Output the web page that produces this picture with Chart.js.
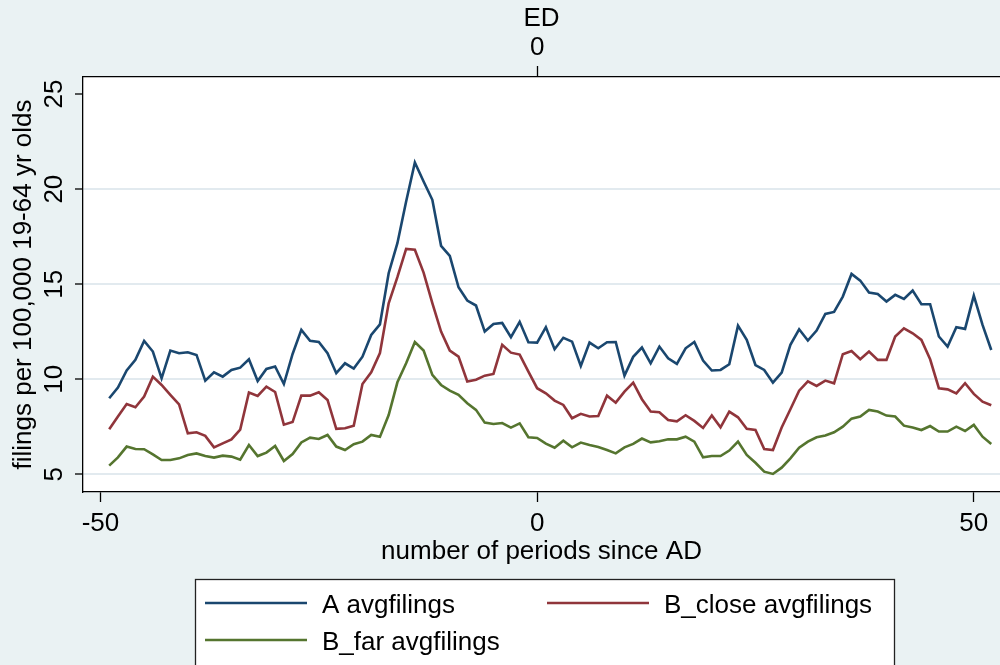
<!DOCTYPE html>
<html>
<head>
<meta charset="utf-8">
<script src="https://cdn.jsdelivr.net/npm/chart.js@4.4.1/dist/chart.umd.min.js"></script>
<style>
    html, body { margin: 0; padding: 0; background: #eaf2f3; }
    canvas { display: block; }
</style>
</head>
<body>
<canvas id="filingsChart" width="1000" height="665"></canvas>
<script>
const periods = [
    -49, -48, -47, -46, -45, -44, -43, -42, -41, -40,
    -39, -38, -37, -36, -35, -34, -33, -32, -31, -30,
    -29, -28, -27, -26, -25, -24, -23, -22, -21, -20,
    -19, -18, -17, -16, -15, -14, -13, -12, -11, -10,
    -9, -8, -7, -6, -5, -4, -3, -2, -1, 0,
    1, 2, 3, 4, 5, 6, 7, 8, 9, 10,
    11, 12, 13, 14, 15, 16, 17, 18, 19, 20,
    21, 22, 23, 24, 25, 26, 27, 28, 29, 30,
    31, 32, 33, 34, 35, 36, 37, 38, 39, 40,
    41, 42, 43, 44, 45, 46, 47, 48, 49, 50,
    51, 52
];

const aFilings = [
    9.0, 9.56, 10.46, 11.02, 12.02, 11.46, 10.05, 11.51, 11.37, 11.42,
    11.28, 9.93, 10.37, 10.14, 10.49, 10.61, 11.05, 9.91, 10.54, 10.67,
    9.75, 11.33, 12.6, 12.02, 11.96, 11.37, 10.32, 10.84, 10.56, 11.19,
    12.33, 12.89, 15.58, 17.16, 19.35, 21.4, 20.4, 19.44, 17.02, 16.49,
    14.84, 14.14, 13.88, 12.51, 12.91, 12.96, 12.21, 13.02, 11.95, 11.93,
    12.74, 11.58, 12.18, 11.98, 10.7, 11.93, 11.63, 11.95, 11.96, 10.19,
    11.18, 11.67, 10.84, 11.72, 11.1, 10.81, 11.63, 11.96, 10.98, 10.46,
    10.49, 10.79, 12.82, 12.07, 10.75, 10.49, 9.82, 10.35, 11.81, 12.63,
    12.04, 12.56, 13.44, 13.54, 14.35, 15.54, 15.19, 14.56, 14.49, 14.09,
    14.44, 14.23, 14.67, 13.95, 13.95, 12.25, 11.72, 12.74, 12.65, 14.4,
    12.86, 11.54
];

const bCloseFilings = [
    7.37, 8.04, 8.7, 8.53, 9.09, 10.14, 9.7, 9.18, 8.68, 7.16,
    7.21, 7.02, 6.42, 6.63, 6.84, 7.35, 9.3, 9.12, 9.61, 9.33,
    7.61, 7.75, 9.14, 9.14, 9.32, 8.91, 7.39, 7.42, 7.56, 9.75,
    10.37, 11.38, 14.0, 15.37, 16.86, 16.81, 15.61, 14.0, 12.51, 11.51,
    11.19, 9.88, 9.98, 10.19, 10.28, 11.81, 11.4, 11.3, 10.4, 9.53,
    9.26, 8.88, 8.65, 7.95, 8.18, 8.04, 8.07, 9.14, 8.77, 9.35,
    9.82, 8.95, 8.3, 8.27, 7.86, 7.79, 8.11, 7.81, 7.44, 8.09,
    7.47, 8.3, 8.0, 7.39, 7.33, 6.33, 6.28, 7.46, 8.42, 9.4,
    9.89, 9.65, 9.93, 9.79, 11.32, 11.49, 11.05, 11.46, 11.02, 11.02,
    12.25, 12.68, 12.42, 12.07, 11.05, 9.53, 9.47, 9.26, 9.79, 9.23,
    8.82, 8.63
];

const bFarFilings = [
    5.46, 5.89, 6.46, 6.33, 6.32, 6.05, 5.75, 5.75, 5.84, 6.02,
    6.1, 5.96, 5.88, 5.98, 5.93, 5.77, 6.54, 5.96, 6.14, 6.49,
    5.7, 6.07, 6.68, 6.93, 6.86, 7.07, 6.46, 6.28, 6.58, 6.72,
    7.07, 6.97, 8.12, 9.84, 10.84, 11.96, 11.51, 10.23, 9.7, 9.4,
    9.18, 8.74, 8.39, 7.72, 7.65, 7.7, 7.46, 7.68, 6.95, 6.91,
    6.61, 6.4, 6.77, 6.42, 6.67, 6.54, 6.44, 6.28, 6.1, 6.42,
    6.6, 6.88, 6.68, 6.74, 6.84, 6.84, 6.98, 6.72, 5.89, 5.96,
    5.96, 6.25, 6.72, 6.02, 5.61, 5.14, 5.02, 5.35, 5.84, 6.4,
    6.72, 6.95, 7.04, 7.21, 7.51, 7.93, 8.04, 8.39, 8.3, 8.09,
    8.04, 7.56, 7.46, 7.33, 7.54, 7.25, 7.25, 7.51, 7.28, 7.6,
    6.98, 6.6
];

const yTicks = [5, 10, 15, 20, 25];
const xTicks = [-50, 0, 50];
const topTicks = [0];

const FONT = '"Liberation Sans", Arial, sans-serif';
const font = {family: FONT, size: 26};

function toPoints(values) {
    return values.map((v, i) => ({x: periods[i], y: v}));
}

// stata-like backdrop: bluish page, white plot region
const plotBackground = {
    id: 'plotBackground',
    beforeDraw(chart) {
        const {ctx, chartArea: a} = chart;
        ctx.save();
        ctx.fillStyle = '#eaf2f3';
        ctx.fillRect(0, 0, chart.width, chart.height);
        ctx.fillStyle = '#ffffff';
        ctx.fillRect(a.left, a.top, a.right - a.left, a.bottom - a.top);
        ctx.restore();
    }
};

// boxed legend in two columns, like the original
const boxLegend = {
    id: 'boxLegend',
    afterDraw(chart) {
        const {ctx} = chart;
        const slots = [
            {x: 205, y: 603},
            {x: 547, y: 603},
            {x: 205, y: 640}
        ];
        ctx.save();
        ctx.fillStyle = '#ffffff';
        ctx.fillRect(195, 579, 699, 100);
        ctx.strokeStyle = '#222';
        ctx.lineWidth = 1.3;
        ctx.strokeRect(195.5, 579.5, 699, 100);
        ctx.font = '26px ' + FONT;
        ctx.textBaseline = 'middle';
        ctx.textAlign = 'left';
        chart.data.datasets.forEach((ds, i) => {
            const s = slots[i];
            ctx.strokeStyle = ds.borderColor;
            ctx.lineWidth = 2.6;
            ctx.beginPath();
            ctx.moveTo(s.x, s.y);
            ctx.lineTo(s.x + 102, s.y);
            ctx.stroke();
            ctx.fillStyle = '#000';
            ctx.fillText(ds.label, s.x + 117, s.y + 3);
        });
        ctx.restore();
    }
};

const ctx = document.getElementById('filingsChart');

new Chart(ctx, {
    type: 'line',
    data: {
        datasets: [
            {
                label: 'A avgfilings',
                data: toPoints(aFilings),
                borderColor: '#1a476f',
                borderWidth: 2.6,
                pointRadius: 0,
                fill: false,
                xAxisID: 'x',
                yAxisID: 'y'
            },
            {
                label: 'B_close avgfilings',
                data: toPoints(bCloseFilings),
                borderColor: '#90353b',
                borderWidth: 2.6,
                pointRadius: 0,
                fill: false,
                xAxisID: 'x',
                yAxisID: 'y'
            },
            {
                label: 'B_far avgfilings',
                data: toPoints(bFarFilings),
                borderColor: '#55752f',
                borderWidth: 2.6,
                pointRadius: 0,
                fill: false,
                xAxisID: 'x',
                yAxisID: 'y'
            }
        ]
    },
    options: {
        responsive: false,
        animation: false,
        devicePixelRatio: 1,
        layout: {
            padding: {left: 0, right: 0, top: 0, bottom: 93}
        },
        plugins: {
            legend: {display: false},
            tooltip: {enabled: false}
        },
        scales: {
            x: {
                type: 'linear',
                position: 'bottom',
                min: -52,
                max: 53,
                afterBuildTicks: s => { s.ticks = xTicks.map(v => ({value: v})); },
                afterFit: s => { s.height = 80; },
                grid: {drawOnChartArea: false, tickLength: 10, tickColor: '#000', tickWidth: 1.3},
                border: {color: '#000', width: 1.3},
                ticks: {font: font, color: '#000', padding: 6, maxRotation: 0},
                title: {
                    display: true,
                    text: 'number of periods since AD',
                    font: font,
                    color: '#000',
                    padding: {top: 0, bottom: 5}
                }
            },
            x2: {
                type: 'linear',
                position: 'top',
                min: -52,
                max: 53,
                afterBuildTicks: s => { s.ticks = topTicks.map(v => ({value: v})); },
                afterFit: s => { s.height = 77; },
                grid: {drawOnChartArea: false, tickLength: 11, tickColor: '#000', tickWidth: 1.3},
                border: {color: '#000', width: 1.3},
                ticks: {font: font, color: '#000', padding: 3, maxRotation: 0},
                title: {
                    display: true,
                    text: 'ED',
                    font: font,
                    color: '#000',
                    padding: {top: 3, bottom: 0}
                }
            },
            y: {
                position: 'left',
                min: 4.07,
                max: 25.9,
                afterBuildTicks: s => { s.ticks = yTicks.map(v => ({value: v})); },
                afterFit: s => { s.width = 83; },
                grid: {
                    color: c => (c.tick && c.tick.value === 25) ? 'rgba(0,0,0,0)' : '#e2eaef',
                    lineWidth: 2,
                    tickLength: 8,
                    tickColor: '#000',
                    tickWidth: 1.3
                },
                border: {color: '#000', width: 1.3},
                ticks: {
                    font: font,
                    color: '#000',
                    minRotation: 90,
                    maxRotation: 90,
                    crossAlign: 'center',
                    padding: 6
                },
                title: {
                    display: true,
                    text: 'filings per 100,000 19-64 yr olds',
                    font: font,
                    color: '#000',
                    padding: {top: 8, bottom: 0}
                }
            }
        }
    },
    plugins: [plotBackground, boxLegend]
});
</script>
</body>
</html>
